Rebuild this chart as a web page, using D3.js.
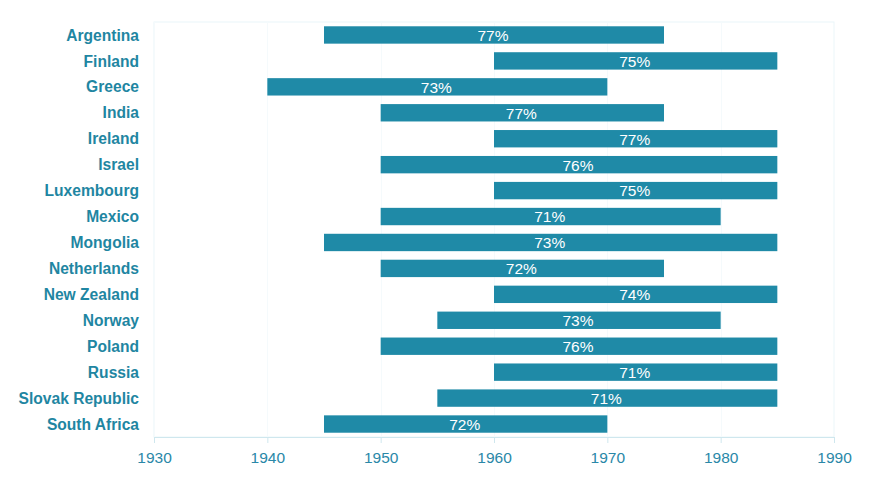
<!DOCTYPE html>
<html><head><meta charset="utf-8">
<script src="https://cdn.jsdelivr.net/npm/d3@7"></script>
<style>body{margin:0;background:#fff;} svg{display:block;font-family:"Liberation Sans",Arial,Helvetica,sans-serif;}</style>
</head><body><svg id="c" width="878" height="481"></svg>
<script>
const countries = ["Argentina","Finland","Greece","India","Ireland","Israel","Luxembourg","Mexico","Mongolia","Netherlands","New Zealand","Norway","Poland","Russia","Slovak Republic","South Africa"];
const startYears = [1945,1960,1940,1950,1960,1950,1960,1950,1945,1950,1960,1955,1950,1960,1955,1945];
const endYears   = [1975,1985,1970,1975,1985,1985,1985,1980,1985,1975,1985,1980,1985,1985,1985,1970];
const shares     = [77,75,73,77,77,76,75,71,73,72,74,73,76,71,71,72];
const xTicks = [1930,1940,1950,1960,1970,1980,1990];

const data = countries.map((c,i)=>({c, s:startYears[i], e:endYears[i], v:shares[i]}));
const svg = d3.select("#c");
const m = {l:154, r:44, t:22, b:44};
const W = 878, H = 481;
const x = d3.scaleLinear().domain([1930,1990]).range([m.l, W-m.r]);
const y = d3.scaleBand().domain(countries).range([m.t, H-m.b]).paddingInner(0.33).paddingOuter(0.165);

// plot frame
svg.append("rect").attr("x",x(1930)).attr("y",m.t).attr("width",x(1990)-x(1930)).attr("height",H-m.b-m.t)
  .attr("fill","none").attr("stroke","#eaf6f9").attr("stroke-width",1);
// gridlines
svg.append("g").selectAll("line").data(xTicks).join("line")
  .attr("x1",d=>Math.round(x(d))+0.5).attr("x2",d=>Math.round(x(d))+0.5)
  .attr("y1",m.t).attr("y2",H-m.b).attr("stroke","#f5fafc");

// bars
svg.append("g").selectAll("rect").data(data).join("rect")
  .attr("x",d=>x(d.s)).attr("width",d=>x(d.e)-x(d.s))
  .attr("y",d=>y(d.c)).attr("height",y.bandwidth()).attr("fill","#1f8aa7");
svg.append("g").selectAll("text").data(data).join("text")
  .attr("x",d=>(x(d.s)+x(d.e))/2 - 1).attr("y",d=>y(d.c)+y.bandwidth()/2)
  .attr("dy","0.38em").attr("text-anchor","middle").attr("fill","#fff")
  .attr("font-size",15.5).text(d=>d.v+"%");

// x axis
const xa = svg.append("g").attr("transform",`translate(0,${H-m.b})`)
  .call(d3.axisBottom(x).tickValues(xTicks).tickFormat(d3.format("d")).tickSize(6).tickPadding(9));
xa.select(".domain").attr("stroke","#cfe7ee");
xa.selectAll(".tick line").attr("stroke","#cfe7ee");
xa.selectAll("text").attr("fill","#2a88a8").attr("font-size",15.5).attr("font-family","Liberation Sans, Arial, sans-serif");

// y labels
svg.append("g").selectAll("text").data(countries).join("text")
  .attr("x",m.l-15).attr("y",d=>y(d)+y.bandwidth()/2).attr("dy","0.36em")
  .attr("text-anchor","end").attr("fill","#1f86a2").attr("font-weight","bold").attr("font-size",15.6)
  .text(d=>d);
</script></body></html>
